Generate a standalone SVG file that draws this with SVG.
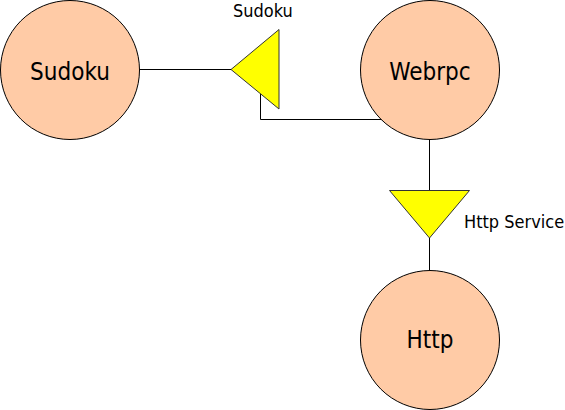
<svg xmlns="http://www.w3.org/2000/svg" width="565" height="410" viewBox="0 0 565 410">
<style>
.node{fill:#ffcba6;stroke:#000;stroke-width:1}
.port{fill:#ffff00;stroke:#333;stroke-width:1}
.big{font-family:"DejaVu Sans Condensed","DejaVu Sans",sans-serif;font-size:24px;fill:#000;text-anchor:middle}
.small{font-family:"DejaVu Sans Condensed","DejaVu Sans",sans-serif;font-size:18px;fill:#000}
.edge{fill:none;stroke:#000;stroke-width:1}
</style>
<rect width="565" height="410" fill="#fff"/>
<g id="connectors">
<path class="edge" d="M139.5,69.5 H231"/>
<path class="edge" d="M260.5,93 V119.5 H383"/>
<path class="edge" d="M429.5,139 V190"/>
<path class="edge" d="M429.5,238 V270"/>
</g>
<g id="sudoku">
<circle class="node" cx="70" cy="70" r="69.5"/>
<text class="big" x="70" y="80">Sudoku</text>
</g>
<g id="webrpc">
<circle class="node" cx="430" cy="70" r="69.5"/>
<text class="big" x="430" y="80">Webrpc</text>
</g>
<g id="http">
<circle class="node" cx="430" cy="340" r="69.5"/>
<text class="big" x="430" y="348">Http</text>
</g>
<g id="port-sudoku">
<polygon class="port" points="231,69.5 279,29.5 279,109"/>
<text class="small" x="233" y="17">Sudoku</text>
</g>
<g id="port-http">
<polygon class="port" points="389.5,190.5 469.5,190.5 429.5,238"/>
<text class="small" x="464" y="228">Http Service</text>
</g>
</svg>
